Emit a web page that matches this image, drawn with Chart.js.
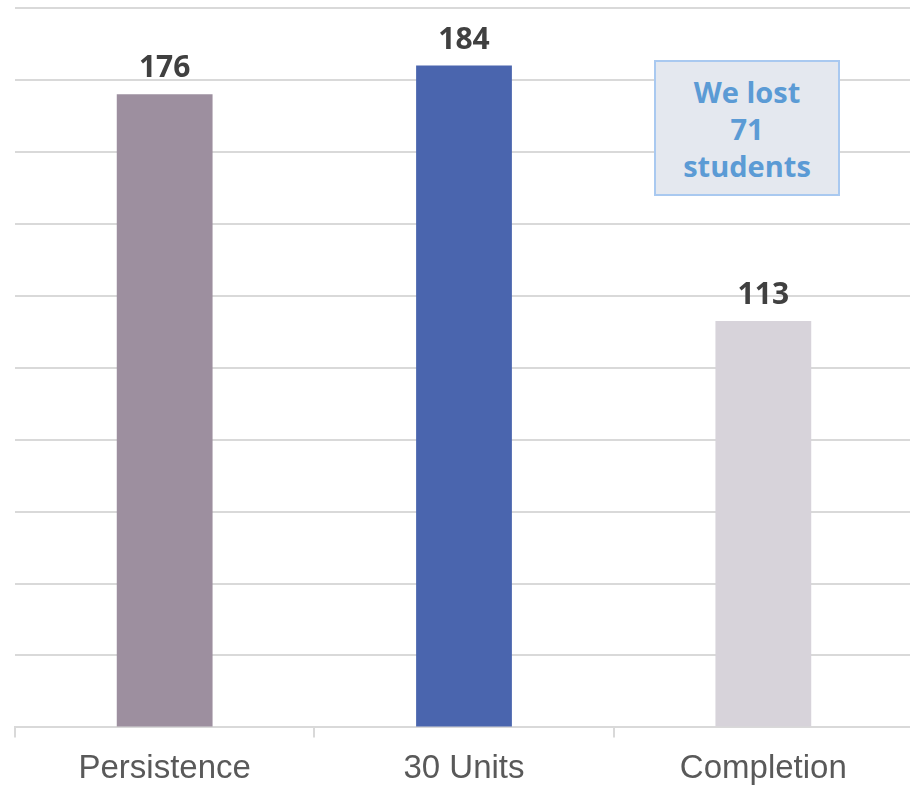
<!DOCTYPE html>
<html lang="en">
<head>
    <meta charset="UTF-8">
    <title>Students Lost</title>
    <script src="https://cdn.jsdelivr.net/npm/chart.js"></script>
    <style>
        html, body { margin: 0; padding: 0; background: #ffffff; }
        .wrap { position: relative; width: 910px; height: 788px; overflow: hidden; }
        canvas { display: block; }
        .note {
            position: absolute;
            left: 654px; top: 60px;
            width: 182px; height: 132px;
            background: #e4e8ef;
            border: 2px solid #a9c9f0;
            color: #5b9bd5;
            font: bold 29px "Open Sans", "DejaVu Sans", sans-serif;
            line-height: 37px;
            text-align: center;
            display: flex; align-items: center; justify-content: center;
        }
    </style>
</head>
<body>
    <div class="wrap">
        <!-- canvas a bit larger than the frame so the plot runs to the edges -->
        <canvas id="lostChart" width="913" height="801"></canvas>
        <div class="note">We lost<br>71<br>students</div>
    </div>

    <script>
        // chart data
        const categories = ['Persistence', '30 Units', 'Completion'];
        const studentCounts = [176, 184, 113];
        const barColors = ['#9d8f9f', '#4a65ae', '#d7d3da'];

        // draws the number above each bar
        const valueLabels = {
            id: 'valueLabels',
            afterDatasetsDraw(chart) {
                const ctx = chart.ctx;
                const meta = chart.getDatasetMeta(0);
                ctx.save();
                ctx.fillStyle = '#404040';
                ctx.font = 'bold 30px "Open Sans", "DejaVu Sans", sans-serif';
                ctx.textAlign = 'center';
                ctx.textBaseline = 'alphabetic';
                meta.data.forEach((bar, i) => {
                    ctx.fillText(studentCounts[i], bar.x, bar.y - 17);
                });
                ctx.restore();
            }
        };

        const ctx = document.getElementById('lostChart').getContext('2d');
        const lostChart = new Chart(ctx, {
            type: 'bar',
            data: {
                labels: categories,
                datasets: [{
                    data: studentCounts,
                    backgroundColor: barColors,
                    barPercentage: 0.64,
                    categoryPercentage: 0.5
                }]
            },
            options: {
                responsive: false,
                animation: false,
                layout: {
                    padding: { left: 15, right: 0, top: 8, bottom: 0 }
                },
                plugins: {
                    legend: { display: false },
                    tooltip: { enabled: false }
                },
                scales: {
                    x: {
                        grid: {
                            drawOnChartArea: false,
                            tickLength: 10,
                            color: '#d9d9d9',
                            lineWidth: 2
                        },
                        border: { color: '#d9d9d9', width: 2 },
                        ticks: {
                            color: '#595959',
                            padding: 12,
                            font: { family: '"Liberation Sans", Arial, sans-serif', size: 33 }
                        }
                    },
                    y: {
                        min: 0,
                        max: 200,
                        ticks: { display: false, stepSize: 20 },
                        border: { display: false },
                        grid: { color: '#d9d9d9', lineWidth: 2, drawTicks: false }
                    }
                }
            },
            plugins: [valueLabels]
        });
    </script>
</body>
</html>
